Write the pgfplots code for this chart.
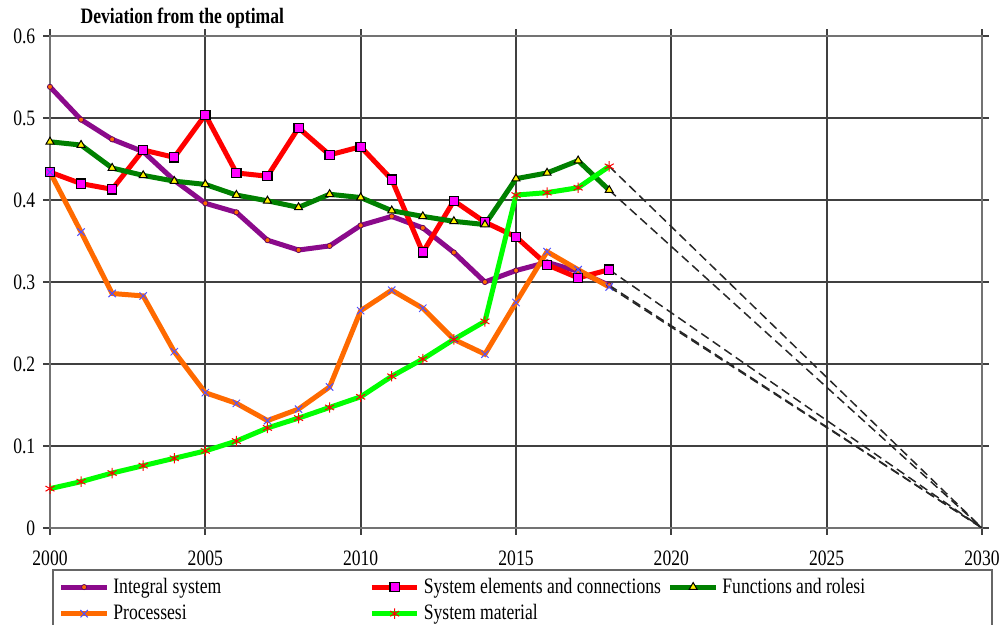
\documentclass[border=0pt]{standalone}
\usepackage{fontspec}
\setmainfont[FakeStretch=0.8]{Liberation Serif}
\usepackage{pgfplots}
\pgfplotsset{compat=1.18}
\definecolor{cpurple}{HTML}{8B0A8B}
\definecolor{cred}{HTML}{FF0000}
\definecolor{cdgreen}{HTML}{008000}
\definecolor{corange}{HTML}{FF6A00}
\definecolor{clgreen}{HTML}{00FF00}
\definecolor{cmag}{HTML}{FF00FF}
\definecolor{cblue}{HTML}{5050FF}
\begin{document}
\fontsize{11}{13}\selectfont
\begin{tikzpicture}
\begin{axis}[
  name=ax,
  scale only axis,
  width=466pt, height=246pt,
  xmin=2000, xmax=2030, ymin=0, ymax=0.6,
  xtick={2000,2005,...,2030},
  ytick={0,0.1,...,0.6},
  yticklabels={0,0.1,0.2,0.3,0.4,0.5,0.6},
  /pgf/number format/assume math mode=true,
  /pgf/number format/1000 sep={},
  tick align=outside,
  major tick length=3.5pt,
  tick style={black!75, line width=1pt},
  grid=major,
  grid style={black!75, line width=1pt},
  axis line style={black!55, line width=1pt},
  xticklabel style={yshift=-4pt},
  title={\textbf{Deviation from the optimal}},
  title style={at={(0.142,1)}, anchor=south, yshift=-6pt},
  legend columns=3,
  legend cell align=left,
  legend style={at={(0.002,-0.083)}, anchor=north west, draw=black!60, line width=1pt,
    /tikz/every even column/.append style={column sep=2pt}},
  legend image code/.code={\draw[mark repeat=2,mark phase=2,#1] plot coordinates {(0cm,0cm) (0.4cm,0cm) (0.8cm,0cm)};},
]
% dashed projections
\addplot[black!85, line width=0.75pt, dash pattern=on 4.5pt off 2.5pt, forget plot] coordinates {(2018,0.296) (2030,0)};
\addplot[black!85, line width=0.75pt, dash pattern=on 4.5pt off 2.5pt, forget plot] coordinates {(2018,0.315) (2030,0)};
\addplot[black!85, line width=0.75pt, dash pattern=on 4.5pt off 2.5pt, forget plot] coordinates {(2018,0.412) (2030,0)};
\addplot[black!85, line width=0.75pt, dash pattern=on 4.5pt off 2.5pt, forget plot] coordinates {(2018,0.294) (2030,0)};
\addplot[black!85, line width=0.75pt, dash pattern=on 4.5pt off 2.5pt, forget plot] coordinates {(2018,0.441) (2030,0)};

\addplot[cpurple, line width=2.5pt, mark=*, mark size=1.3pt, mark options={fill=corange, draw=cpurple!70!black, line width=0.4pt, solid}] coordinates {
(2000,0.538) (2001,0.498) (2002,0.474) (2003,0.459) (2004,0.424) (2005,0.396)
(2006,0.385) (2007,0.351) (2008,0.339) (2009,0.344) (2010,0.369) (2011,0.380)
(2012,0.366) (2013,0.336) (2014,0.300) (2015,0.314) (2016,0.324) (2017,0.313) (2018,0.296)};
\addlegendentry{\makebox[124pt][l]{Integral system}}

\addplot[cred, line width=2.5pt, mark=square*, mark size=2.3pt, mark options={fill=cmag, draw=black, line width=0.6pt, solid}] coordinates {
(2000,0.434) (2001,0.420) (2002,0.413) (2003,0.461) (2004,0.452) (2005,0.504)
(2006,0.433) (2007,0.429) (2008,0.488) (2009,0.455) (2010,0.465) (2011,0.425)
(2012,0.336) (2013,0.399) (2014,0.373) (2015,0.355) (2016,0.321) (2017,0.305) (2018,0.315)};
\addlegendentry{\makebox[118pt][l]{System elements and connections}}

\addplot[cdgreen, line width=2.5pt, mark=triangle*, mark size=2.3pt, mark options={fill=yellow, draw=black, line width=0.5pt, solid}] coordinates {
(2000,0.471) (2001,0.467) (2002,0.439) (2003,0.430) (2004,0.423) (2005,0.419)
(2006,0.406) (2007,0.399) (2008,0.391) (2009,0.407) (2010,0.403) (2011,0.387)
(2012,0.380) (2013,0.374) (2014,0.370) (2015,0.426) (2016,0.433) (2017,0.448) (2018,0.412)};
\addlegendentry{\makebox[130pt][l]{Functions and rolesi}}

\addplot[corange, line width=2.5pt, mark=x, mark size=2.6pt, mark options={draw=cblue, line width=0.5pt, solid}] coordinates {
(2000,0.434) (2001,0.361) (2002,0.286) (2003,0.283) (2004,0.215) (2005,0.165)
(2006,0.152) (2007,0.131) (2008,0.145) (2009,0.172) (2010,0.265) (2011,0.290)
(2012,0.268) (2013,0.230) (2014,0.212) (2015,0.275) (2016,0.337) (2017,0.315) (2018,0.294)};
\addlegendentry{\makebox[124pt][l]{Processesi}}

\addplot[clgreen, line width=2.5pt, mark=asterisk, mark size=2.6pt, mark options={draw=red, line width=0.5pt, solid}] coordinates {
(2000,0.048) (2001,0.0565) (2002,0.067) (2003,0.076) (2004,0.085) (2005,0.094)
(2006,0.106) (2007,0.122) (2008,0.134) (2009,0.147) (2010,0.160) (2011,0.185)
(2012,0.206) (2013,0.230) (2014,0.252) (2015,0.406) (2016,0.409) (2017,0.415) (2018,0.441)};
\addlegendentry{\makebox[118pt][l]{System material}}
\end{axis}
\pgfresetboundingbox
\path[use as bounding box] ([xshift=-25pt,yshift=-48.5pt]ax.south west) rectangle ([xshift=10.5pt,yshift=18pt]ax.north east);
\end{tikzpicture}
\end{document}
